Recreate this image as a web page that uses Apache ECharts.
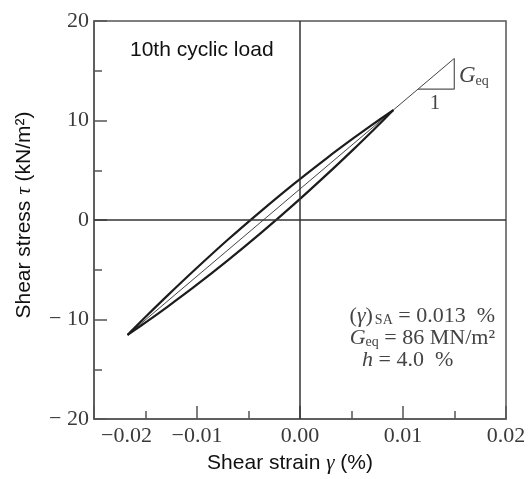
<!DOCTYPE html>
<html>
<head>
<meta charset="utf-8">
<script src="https://cdn.jsdelivr.net/npm/echarts@6/dist/echarts.min.js"></script>
<style>html,body{margin:0;padding:0;background:#fff}#c{width:530px;height:479px}</style>
</head>
<body>
<div id="c"></div>
<script>
// ---- data ----
const xTickLabels = ['−0.02', '−0.01', '0.00', '0.01', '0.02'];
const yTickLabels = ['− 20', '− 10', '0', '10', '20'];
// upper (loading) branch: strain (%), stress (kN/m2)
const upperStrain = [-0.01674, -0.01610, -0.01481, -0.01287, -0.01029, -0.00707, -0.00384, -0.00062, 0.00261, 0.00519, 0.00713, 0.00842, 0.00906];
const upperStress = [-11.55, -10.88, -9.55, -7.60, -5.08, -2.04, 0.85, 3.61, 6.23, 8.22, 9.66, 10.59, 11.05];
// lower (unloading) branch
const lowerStrain = [0.00906, 0.00842, 0.00713, 0.00519, 0.00261, -0.00062, -0.00384, -0.00707, -0.01029, -0.01287, -0.01481, -0.01610, -0.01674];
const lowerStress = [11.05, 10.38, 9.05, 7.10, 4.58, 1.54, -1.35, -4.11, -6.73, -8.72, -10.16, -11.09, -11.55];
// secant (equivalent shear modulus) line and slope triangle
const secantStrain = [-0.01674, 0.01498];
const secantStress = [-11.55, 16.24];
const triStrain = [0.01146, 0.01498, 0.01498];
const triStress = [13.16, 13.16, 16.24];

const zip = (a, b) => a.map((v, i) => [v, b[i]]);
const serif = '"Liberation Serif", "DejaVu Serif", serif';
const sans = '"Liberation Sans", Arial, sans-serif';
const labelColor = '#3a3a3a';

const chart = echarts.init(document.getElementById('c'), null, {renderer: 'canvas'});
chart.setOption({
  animation: false,
  backgroundColor: '#fff',
  grid: {left: 94, top: 21, right: 24, bottom: 59, show: true, borderColor: '#555', borderWidth: 1.5},
  xAxis: {
    type: 'value', min: -0.02, max: 0.02, interval: 0.01,
    name: 'Shear strain {g|γ} (%)', nameLocation: 'middle', nameGap: 34,
    nameTextStyle: {fontFamily: sans, fontSize: 21, color: '#111', padding: [0, 20, 0, 0],
      rich: {g: {fontFamily: serif, fontStyle: 'italic', fontSize: 21, color: '#111'}}},
    axisLine: {show: true, onZero: false, lineStyle: {color: '#555', width: 1.5}},
    axisTick: {show: true, inside: true, length: 13, lineStyle: {color: '#555', width: 1.5}},
    minorTick: {show: true, splitNumber: 2, length: 8, lineStyle: {color: '#555', width: 1.5}},
    splitLine: {show: false},
    axisLabel: {
      margin: 6, fontFamily: serif, fontSize: 22, color: labelColor,
      alignMinLabel: 'left',
      formatter: (v, i) => i === 0 ? '{p|' + xTickLabels[i] + '}' : xTickLabels[i],
      rich: {p: {fontFamily: serif, fontSize: 22, color: labelColor, padding: [0, 0, 0, 7]}}
    }
  },
  yAxis: {
    type: 'value', min: -20, max: 20, interval: 10,
    name: 'Shear stress {t|τ} (kN/m²)', nameLocation: 'middle', nameGap: 59,
    nameTextStyle: {fontFamily: sans, fontSize: 21, color: '#111', padding: [0, 0, 0, 10],
      rich: {t: {fontFamily: serif, fontStyle: 'italic', fontSize: 21, color: '#111'}}},
    axisLine: {show: true, onZero: false, lineStyle: {color: '#555', width: 1.5}},
    axisTick: {show: true, inside: true, length: 13, lineStyle: {color: '#555', width: 1.5}},
    minorTick: {show: true, splitNumber: 2, length: 8, lineStyle: {color: '#555', width: 1.5}},
    splitLine: {show: false},
    axisLabel: {margin: 5, fontFamily: serif, fontSize: 22, color: labelColor,
      formatter: (v, i) => yTickLabels[i]}
  },
  series: [
    {
      type: 'line', data: zip(secantStrain, secantStress), symbol: 'none',
      lineStyle: {color: '#444', width: 1}, z: 2,
      markLine: {
        silent: true, symbol: 'none', label: {show: false},
        lineStyle: {color: '#333', width: 1.5, type: 'solid'},
        data: [{xAxis: 0}, {yAxis: 0}]
      }
    },
    {type: 'line', data: zip(upperStrain, upperStress), symbol: 'none', smooth: 0.3,
      lineStyle: {color: '#1c1c1c', width: 2.2}, z: 3},
    {type: 'line', data: zip(lowerStrain, lowerStress), symbol: 'none', smooth: 0.3,
      lineStyle: {color: '#1c1c1c', width: 2.2}, z: 3},
    {type: 'line', data: zip(triStrain, triStress), symbol: 'none',
      lineStyle: {color: '#555', width: 1.2}, z: 2}
  ],
  graphic: [
    {type: 'text', x: 130, y: 50, style: {text: '10th cyclic load', font: '21px ' + sans, fill: '#111', verticalAlign: 'middle'}},
    {type: 'text', x: 459, y: 76, style: {
      text: '{G|G}{s|eq}', verticalAlign: 'middle',
      rich: {G: {fontFamily: serif, fontStyle: 'italic', fontSize: 23, fill: '#444'},
             s: {fontFamily: serif, fontSize: 14, fill: '#444', padding: [10, 0, 0, 0]}}}},
    {type: 'text', x: 435, y: 103, style: {text: '1', font: '21px ' + serif, fill: '#444', align: 'center', verticalAlign: 'middle'}},
    {type: 'text', x: 495, y: 316, style: {
      text: '{n|(}{gi|γ}{n|)}{s|SA}{n| = 0.013  %}', align: 'right', verticalAlign: 'middle',
      rich: {n: {fontFamily: serif, fontSize: 22, fill: '#444'},
             gi: {fontFamily: serif, fontStyle: 'italic', fontSize: 22, fill: '#444'},
             s: {fontFamily: serif, fontSize: 14, fill: '#444', padding: [8, 0, 0, 2]}}}},
    {type: 'text', x: 495, y: 338, style: {
      text: '{G|G}{s|eq}{n| = 86 MN/m²}', align: 'right', verticalAlign: 'middle',
      rich: {n: {fontFamily: serif, fontSize: 22, fill: '#444'},
             G: {fontFamily: serif, fontStyle: 'italic', fontSize: 22, fill: '#444'},
             s: {fontFamily: serif, fontSize: 14, fill: '#444', padding: [8, 0, 0, 0]}}}},
    {type: 'text', x: 362, y: 360, style: {
      text: '{h|h}{n| = 4.0  %}', verticalAlign: 'middle',
      rich: {n: {fontFamily: serif, fontSize: 22, fill: '#444'},
             h: {fontFamily: serif, fontStyle: 'italic', fontSize: 22, fill: '#444'}}}}
  ]
});
</script>
</body>
</html>
